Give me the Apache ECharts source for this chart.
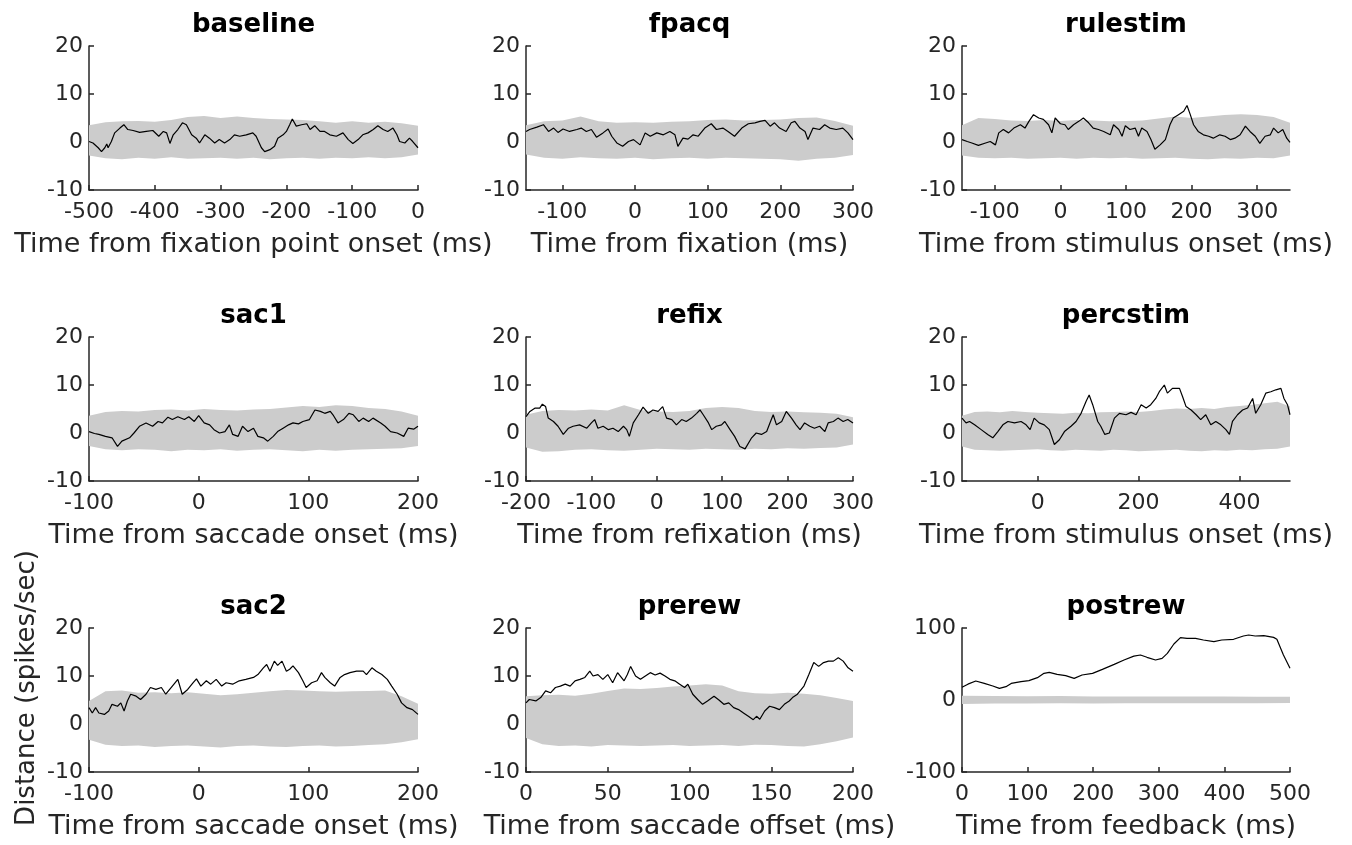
<!DOCTYPE html>
<html>
<head>
<meta charset="utf-8">
<script src="https://cdn.jsdelivr.net/npm/echarts@6/dist/echarts.min.js"></script>
<style>html,body{margin:0;padding:0;background:#fff}#c{width:1352px;height:845px}</style>
</head>
<body>
<div id="c"></div>
<script>
// ---------- data (time in ms, distance in spikes/sec) ----------
const titles = ['baseline','fpacq','rulestim','sac1','refix','percstim','sac2','prerew','postrew'];
const xLabels = ['Time from fixation point onset (ms)','Time from fixation (ms)','Time from stimulus onset (ms)',
  'Time from saccade onset (ms)','Time from refixation (ms)','Time from stimulus onset (ms)',
  'Time from saccade onset (ms)','Time from saccade offset (ms)','Time from feedback (ms)'];
const xRanges = [[-500,0],[-150,300],[-150,350],[-100,200],[-200,300],[-150,500],[-100,200],[0,200],[0,500]];
const xTicks = [[-500,-400,-300,-200,-100,0],[-100,0,100,200,300],[-100,0,100,200,300],
  [-100,0,100,200],[-200,-100,0,100,200,300],[0,200,400],[-100,0,100,200],[0,50,100,150,200],[0,100,200,300,400,500]];
const yRanges = [[-10,20,10],[-10,20,10],[-10,20,10],[-10,20,10],[-10,20,10],[-10,20,10],[-10,20,10],[-10,20,10],[-100,100,100]];
const yAxisTitle = 'Distance (spikes/sec)';

const baselineLine = [[-500,0.1],[-494,-0.2],[-486,-1.2],[-481,-2.0],[-476,-1.2],[-473,-0.4],[-471,-1.2],[-466,0.1],[-461,1.9],[-453,2.9],[-447,3.6],[-441,2.6],[-433,2.4],[-423,2.0],[-413,2.2],[-403,2.4],[-394,1.2],[-387,2.2],[-382,1.9],[-377,-0.3],[-372,1.5],[-365,2.6],[-358,4.0],[-352,3.6],[-344,1.5],[-337,0.8],[-332,-0.2],[-324,1.5],[-317,0.8],[-309,-0.2],[-302,0.5],[-294,-0.2],[-286,0.5],[-279,1.5],[-271,1.2],[-261,1.5],[-251,1.9],[-246,1.2],[-238,-1.2],[-233,-2.0],[-225,-1.6],[-218,-0.9],[-213,0.8],[-205,1.5],[-200,2.2],[-195,3.6],[-191,4.8],[-185,3.3],[-177,3.6],[-169,3.8],[-164,2.6],[-157,3.4],[-149,2.2],[-142,2.2],[-134,1.5],[-124,1.2],[-114,1.9],[-106,0.5],[-99,-0.3],[-91,0.5],[-84,1.5],[-76,1.9],[-68,2.6],[-61,3.4],[-53,2.6],[-46,2.2],[-38,2.9],[-32,1.5],[-28,0.1],[-20,-0.2],[-13,0.8],[-8,0.1],[0,-1.2]];
const baselineBand = [[-500,-2.8,3.5],[-475,-3.4,4.1],[-450,-3.6,4.3],[-425,-3.3,4.4],[-400,-3.5,4.2],[-375,-3.2,4.6],[-350,-3.5,5.2],[-325,-3.4,5.4],[-300,-3.3,5.0],[-275,-3.5,5.3],[-250,-3.3,5.0],[-225,-3.6,4.8],[-200,-3.4,4.7],[-175,-3.3,4.6],[-150,-3.5,4.3],[-125,-3.3,4.0],[-100,-3.4,4.3],[-75,-3.2,4.0],[-50,-3.4,4.2],[-25,-3.2,3.9],[0,-2.6,3.4]];

const fpacqLine = [[-150,2.2],[-145,2.6],[-135,3.1],[-126,3.6],[-119,2.2],[-112,2.9],[-106,2.0],[-99,2.7],[-90,2.2],[-80,2.6],[-74,2.9],[-67,2.2],[-60,2.6],[-53,1.0],[-44,1.9],[-37,2.7],[-32,1.2],[-25,-0.2],[-17,-0.9],[-9,0.1],[-2,0.5],[7,-0.6],[14,1.9],[21,1.2],[30,1.9],[39,1.5],[48,2.2],[55,1.5],[59,-0.9],[66,0.8],[73,0.6],[80,1.5],[87,1.2],[96,2.9],[105,3.8],[112,2.6],[121,2.9],[128,2.2],[137,1.2],[147,2.9],[156,3.8],[165,4.0],[172,4.3],[179,4.5],[186,3.3],[192,4.0],[199,2.9],[208,2.2],[215,4.0],[220,4.3],[227,2.9],[234,2.2],[238,0.5],[245,2.9],[254,2.6],[261,3.6],[268,2.9],[277,2.6],[286,2.9],[293,1.9],[300,0.5]];
const fpacqBand = [[-150,-2.6,3.5],[-125,-3.3,4.3],[-100,-3.5,4.5],[-75,-3.2,5.3],[-50,-3.4,4.3],[-25,-3.5,4.0],[0,-3.3,4.1],[25,-3.6,4.0],[50,-3.4,4.2],[75,-3.3,4.3],[100,-3.5,4.6],[125,-3.3,4.7],[150,-3.4,4.5],[175,-3.5,4.6],[200,-3.6,4.7],[225,-3.9,5.0],[250,-3.5,5.1],[275,-3.3,4.4],[300,-2.7,3.4]];

const rulestimLine = [[-150,0.5],[-142,0.1],[-135,-0.2],[-125,-0.7],[-114,-0.2],[-107,0.1],[-99,-0.6],[-94,1.9],[-87,2.6],[-79,1.9],[-71,2.9],[-61,3.6],[-54,2.9],[-48,4.3],[-41,5.7],[-33,5.0],[-26,4.7],[-18,3.6],[-13,1.9],[-8,5.0],[0,3.8],[7,3.6],[12,2.6],[20,3.6],[28,4.3],[35,5.0],[43,4.0],[50,2.9],[58,2.6],[66,2.2],[76,1.5],[81,3.6],[89,2.6],[94,1.2],[99,3.4],[106,2.6],[114,2.9],[119,1.2],[124,2.9],[132,2.2],[138,0.5],[144,-1.5],[152,-0.6],[160,0.5],[167,3.6],[172,5.0],[180,5.7],[188,6.4],[193,7.6],[198,5.7],[203,3.6],[210,2.2],[218,1.5],[226,1.2],[233,0.8],[243,1.5],[251,1.2],[259,0.5],[266,0.8],[274,1.5],[282,3.3],[289,2.2],[297,1.2],[304,-0.3],[312,1.2],[320,1.5],[325,2.9],[332,1.9],[339,2.6],[345,0.8],[350,-0.1]];
const rulestimBand = [[-150,-2.8,3.5],[-125,-3.3,5.0],[-100,-3.4,4.8],[-75,-3.3,4.5],[-50,-3.5,4.4],[-25,-3.4,4.6],[0,-3.3,4.4],[25,-3.5,4.6],[50,-3.3,4.5],[75,-3.4,4.3],[100,-3.3,4.4],[125,-3.5,4.5],[150,-3.4,4.9],[175,-3.3,5.3],[200,-3.5,5.0],[225,-3.6,5.3],[250,-3.4,5.6],[275,-3.5,5.8],[300,-3.3,5.6],[325,-3.4,5.2],[350,-2.8,4.0]];

const sac1Line = [[-100,0.3],[-95,-0.1],[-91,-0.3],[-85,-0.7],[-79,-1.0],[-74,-2.8],[-70,-1.7],[-63,-1.0],[-59,0],[-54,1.4],[-48,2.1],[-42,1.4],[-37,2.4],[-33,2.1],[-28,3.3],[-24,2.8],[-19,3.4],[-13,2.8],[-9,3.4],[-4,2.4],[0,3.6],[5,2.1],[10,1.7],[14,0.7],[19,0],[24,0.3],[28,1.7],[31,-0.3],[36,-0.7],[40,1.4],[45,0.3],[50,1.0],[54,-0.7],[59,-1.0],[63,-1.7],[68,-0.7],[72,0.3],[77,1.0],[82,1.7],[86,2.1],[91,1.9],[95,2.4],[101,2.8],[106,4.8],[111,4.5],[115,4.1],[120,4.5],[123,3.6],[127,2.1],[132,2.8],[137,4.1],[141,3.8],[146,2.4],[150,3.1],[155,2.4],[159,3.1],[166,2.1],[170,1.4],[175,0.3],[181,0],[187,-0.7],[191,1.0],[196,0.8],[200,1.4]];
const sac1Band = [[-100,-2.7,3.6],[-85,-3.4,4.4],[-70,-3.6,4.6],[-55,-3.4,4.5],[-40,-3.5,4.8],[-25,-3.8,4.9],[-10,-3.5,4.7],[5,-3.6,5.0],[20,-3.4,4.8],[35,-3.7,4.7],[50,-3.5,4.9],[65,-3.4,5.0],[80,-3.6,5.3],[95,-3.8,5.6],[110,-3.5,5.4],[125,-3.7,5.8],[140,-3.5,5.6],[155,-3.4,5.2],[170,-3.3,5.0],[185,-3.2,4.5],[200,-2.7,3.6]];

const refixLine = [[-200,3.4],[-194,4.5],[-186,5.2],[-179,5.2],[-175,6.0],[-170,5.5],[-166,3.1],[-158,2.4],[-151,1.4],[-143,-0.3],[-135,1.0],[-128,1.4],[-118,1.7],[-107,1.0],[-100,2.1],[-95,2.8],[-90,1.0],[-82,1.4],[-74,0.7],[-67,1.0],[-59,0.3],[-51,1.4],[-46,0.7],[-42,-0.7],[-36,2.1],[-28,3.8],[-21,5.4],[-13,4.1],[-6,4.8],[2,4.5],[9,5.5],[15,3.1],[23,2.8],[30,1.7],[38,2.8],[45,2.4],[53,3.1],[61,4.1],[66,4.8],[71,3.8],[79,2.1],[84,0.7],[91,1.4],[99,1.7],[104,2.4],[112,0.7],[119,-0.7],[127,-2.8],[135,-3.3],[138,-3.4],[145,-1.0],[152,0],[160,-0.3],[168,0.3],[173,2.1],[178,3.8],[183,1.7],[191,2.4],[198,4.5],[206,3.1],[213,1.7],[219,0.7],[226,2.1],[234,1.4],[241,1.0],[249,1.4],[257,0.3],[262,2.1],[270,2.4],[277,3.1],[285,2.4],[292,2.8],[300,2.1]];
const refixBand = [[-200,-3.0,3.8],[-175,-3.9,4.6],[-150,-3.8,4.8],[-125,-3.5,4.7],[-100,-3.4,4.9],[-75,-3.6,4.7],[-50,-3.7,5.8],[-25,-3.5,4.8],[0,-3.3,4.5],[25,-3.4,4.4],[50,-3.5,4.6],[75,-3.3,5.2],[100,-3.4,5.4],[125,-3.5,5.2],[150,-3.3,4.6],[175,-3.4,4.4],[200,-3.2,4.5],[225,-3.3,4.3],[250,-3.1,4.2],[275,-3.0,4.0],[300,-2.4,3.3]];

const percstimLine = [[-150,3.1],[-142,2.1],[-135,2.4],[-125,1.7],[-112,0.7],[-99,-0.3],[-89,-1.0],[-79,0.3],[-69,1.7],[-59,2.4],[-46,2.1],[-33,2.4],[-23,1.7],[-15,0.7],[-7,3.1],[3,2.1],[13,1.7],[23,0.7],[33,-2.4],[43,-1.4],[53,0.3],[66,1.4],[76,2.4],[86,4.1],[96,6.6],[102,7.9],[109,5.9],[119,2.4],[125,1.4],[133,-0.3],[142,0],[152,3.1],[162,4.1],[175,3.8],[185,4.3],[195,3.8],[205,5.9],[215,5.2],[224,5.9],[234,7.2],[241,8.6],[251,10.0],[257,8.3],[267,9.3],[281,9.3],[287,7.6],[294,5.5],[304,4.8],[314,3.8],[323,2.8],[333,3.8],[343,1.7],[353,2.4],[363,1.7],[373,0.7],[380,-0.3],[386,2.4],[396,3.8],[406,4.8],[416,5.2],[426,7.2],[432,4.1],[442,5.9],[452,8.3],[462,8.6],[472,9.0],[482,9.3],[488,7.2],[495,5.9],[500,3.8]];
const percstimBand = [[-150,-2.8,3.6],[-125,-3.5,4.4],[-100,-3.6,4.5],[-75,-3.7,4.3],[-50,-3.6,4.6],[-25,-3.5,4.4],[0,-3.4,4.2],[25,-3.6,4.1],[50,-3.7,4.0],[75,-3.5,4.2],[100,-3.6,4.1],[125,-3.7,4.3],[150,-3.5,4.4],[175,-3.6,4.5],[200,-3.8,4.4],[225,-3.7,4.6],[250,-3.6,4.9],[275,-3.5,5.1],[300,-3.7,5.0],[325,-3.8,5.2],[350,-3.6,5.0],[375,-3.7,5.4],[400,-3.5,5.6],[425,-3.6,5.9],[450,-3.4,6.2],[475,-3.3,6.5],[500,-2.8,5.5]];

const sac2Line = [[-100,3.4],[-97,2.3],[-94,3.4],[-91,2.3],[-86,2.0],[-82,2.7],[-79,4.1],[-74,3.7],[-71,4.4],[-68,2.7],[-65,4.8],[-62,6.2],[-57,5.8],[-53,5.1],[-48,6.2],[-44,7.6],[-39,7.2],[-34,7.6],[-30,6.2],[-24,7.9],[-19,9.3],[-15,6.2],[-10,7.2],[-5,8.6],[-2,9.4],[2,7.9],[7,9.0],[11,8.3],[16,9.3],[21,7.9],[25,8.6],[31,8.3],[37,9.0],[43,9.3],[50,9.7],[54,10.3],[59,11.7],[62,12.4],[65,11.0],[69,13.1],[72,12.2],[76,13.1],[80,11.0],[83,11.4],[86,12.1],[91,10.7],[95,9.0],[98,7.6],[103,8.6],[108,9.0],[112,10.7],[115,9.7],[120,8.6],[124,7.9],[129,9.7],[133,10.3],[138,10.7],[144,11.0],[150,11.0],[153,10.3],[158,11.7],[162,11.0],[167,10.3],[172,9.3],[176,7.9],[181,6.2],[185,4.4],[190,3.4],[195,3.0],[200,2.0]];
const sac2Band = [[-100,-3.3,4.8],[-85,-4.3,6.8],[-70,-4.6,7.0],[-55,-4.5,6.5],[-40,-4.8,6.6],[-25,-4.6,6.4],[-10,-4.5,6.6],[5,-4.7,6.3],[20,-4.9,6.0],[35,-4.6,6.2],[50,-4.5,6.5],[65,-4.7,6.8],[80,-4.8,7.1],[95,-4.6,7.0],[110,-4.5,6.8],[125,-4.7,6.7],[140,-4.6,6.8],[155,-4.4,6.9],[170,-4.2,7.0],[185,-3.8,5.8],[200,-3.2,4.2]];

const prerewLine = [[0,4.4],[2,5.1],[6,4.8],[9,5.5],[12,6.9],[15,6.5],[18,7.6],[21,7.9],[24,8.3],[27,7.9],[30,9.0],[33,9.3],[36,9.7],[39,11.0],[41,10.0],[44,10.3],[47,9.3],[50,10.3],[53,8.6],[56,10.7],[60,9.0],[62,10.3],[64,12.0],[67,10.0],[70,9.3],[73,10.0],[76,10.7],[79,10.2],[82,10.6],[85,10.0],[88,9.3],[91,9.0],[94,8.3],[97,7.6],[99,8.3],[102,6.2],[105,5.1],[108,4.1],[111,4.8],[115,5.8],[118,5.0],[121,4.1],[124,4.4],[127,3.4],[130,3.0],[133,2.3],[136,1.6],[139,0.9],[141,1.6],[143,1.0],[146,2.7],[149,3.7],[152,3.4],[155,3.0],[158,4.1],[161,4.8],[163,5.5],[166,6.2],[170,7.9],[173,10.3],[176,12.8],[179,12.0],[182,12.8],[185,13.1],[188,13.1],[191,13.8],[194,13.1],[197,11.7],[200,11.0]];
const prerewBand = [[0,-2.9,5.8],[10,-4.2,6.0],[20,-4.6,6.1],[30,-4.5,5.9],[40,-4.7,6.3],[50,-4.4,6.9],[60,-4.5,7.4],[70,-4.6,7.3],[80,-4.5,7.5],[90,-4.4,7.8],[100,-4.6,8.0],[110,-4.5,8.3],[120,-4.4,8.0],[130,-4.6,6.8],[140,-4.3,6.4],[150,-4.4,6.3],[160,-4.6,6.5],[170,-4.7,6.3],[180,-4.2,6.0],[190,-3.6,5.4],[200,-2.8,4.8]];

const postrewLine = [[0,17.6],[9,22],[21,26.4],[34,23],[47,19.4],[57,16.2],[67,18.5],[75,23],[90,25.5],[102,26.9],[115,31],[125,37],[133,38.4],[145,35.6],[158,33.8],[171,30],[183,34.7],[199,37],[214,42.6],[232,49.5],[247,55.6],[262,61],[272,62.5],[282,59.3],[295,55.6],[305,57.9],[313,64.8],[323,77.8],[333,86.6],[343,85.6],[356,85.6],[368,83.3],[384,81],[396,83.3],[414,84.3],[429,88.9],[437,90.3],[447,88.9],[460,89.4],[475,87],[480,84.3],[490,62.5],[500,44]];
const postrewBand = [[0,-5.5,6.0],[50,-5.0,5.5],[100,-4.8,5.2],[150,-4.6,5.4],[200,-4.8,5.0],[250,-4.6,5.0],[300,-4.5,4.8],[350,-4.6,4.9],[400,-4.4,4.7],[450,-4.5,4.6],[500,-4.3,4.5]];

const lines = [baselineLine,fpacqLine,rulestimLine,sac1Line,refixLine,percstimLine,sac2Line,prerewLine,postrewLine];
const bands = [baselineBand,fpacqBand,rulestimBand,sac1Band,refixBand,percstimBand,sac2Band,prerewBand,postrewBand];

// ---------- layout / style ----------
const FONT = 'DejaVu Sans';
const AX = '#262626';
const colLeft = [89, 526, 962], colWidth = [329, 327, 328];
const rowTop = [46, 337, 628], plotH = 144;

const option = {animation:false, backgroundColor:'#ffffff', grid:[], xAxis:[], yAxis:[], series:[], graphic:[]};

function bandRenderer(band) {
  return function (params, api) {
    if (params.dataIndex !== 0) return null;
    const pts = [];
    for (let k = 0; k < band.length; k++) pts.push(api.coord([band[k][0], band[k][2]]));
    for (let k = band.length - 1; k >= 0; k--) pts.push(api.coord([band[k][0], band[k][1]]));
    return {type:'polygon', shape:{points:pts}, style:{fill:'#cccccc', stroke:null}};
  };
}

for (let i = 0; i < 9; i++) {
  const r = Math.floor(i / 3), c = i % 3;
  option.grid.push({left: colLeft[c], top: rowTop[r], width: colWidth[c], height: plotH, containLabel: false});
  option.xAxis.push({
    type:'value', gridIndex:i, min:xRanges[i][0], max:xRanges[i][1],
    axisLine:{show:true, onZero:false, lineStyle:{color:AX, width:1.5}},
    axisTick:{show:true, inside:true, length:5, lineStyle:{color:AX, width:1.5}, customValues:xTicks[i]},
    axisLabel:{customValues:xTicks[i], color:AX, fontFamily:FONT, fontSize:22, margin:11},
    splitLine:{show:false},
    name:xLabels[i], nameLocation:'middle', nameGap:41,
    nameTextStyle:{fontFamily:FONT, fontSize:27, color:AX}
  });
  option.yAxis.push({
    type:'value', gridIndex:i, min:yRanges[i][0], max:yRanges[i][1], interval:yRanges[i][2],
    axisLine:{show:true, onZero:false, lineStyle:{color:AX, width:1.5}},
    axisTick:{show:true, inside:true, length:5, lineStyle:{color:AX, width:1.5}},
    axisLabel:{color:AX, fontFamily:FONT, fontSize:22, margin:6, padding:[7,0,0,0]},
    splitLine:{show:false}
  });
  const band = bands[i];
  option.series.push({
    type:'custom', coordinateSystem:'cartesian2d', xAxisIndex:i, yAxisIndex:i,
    data: band, encode:{x:0, y:[1,2]}, renderItem: bandRenderer(band), silent:true, z:1
  });
  option.series.push({
    type:'line', xAxisIndex:i, yAxisIndex:i, data: lines[i], symbol:'none',
    lineStyle:{color:'#000000', width:1.2}, z:3
  });
  option.graphic.push({
    type:'text', x: colLeft[c] + colWidth[c] / 2, y: [25, 316, 607][r],
    style:{text:titles[i], font:'bold 26px "DejaVu Sans"', fill:'#000000', align:'center', verticalAlign:'middle'}
  });
}
option.graphic.push({
  type:'text', x:27, y:688, rotation:Math.PI / 2,
  style:{text:yAxisTitle, font:'26px "DejaVu Sans"', fill:AX, align:'center', verticalAlign:'middle'}
});

const chart = echarts.init(document.getElementById('c'), null, {renderer:'canvas'});
chart.setOption(option);
</script>
</body>
</html>
